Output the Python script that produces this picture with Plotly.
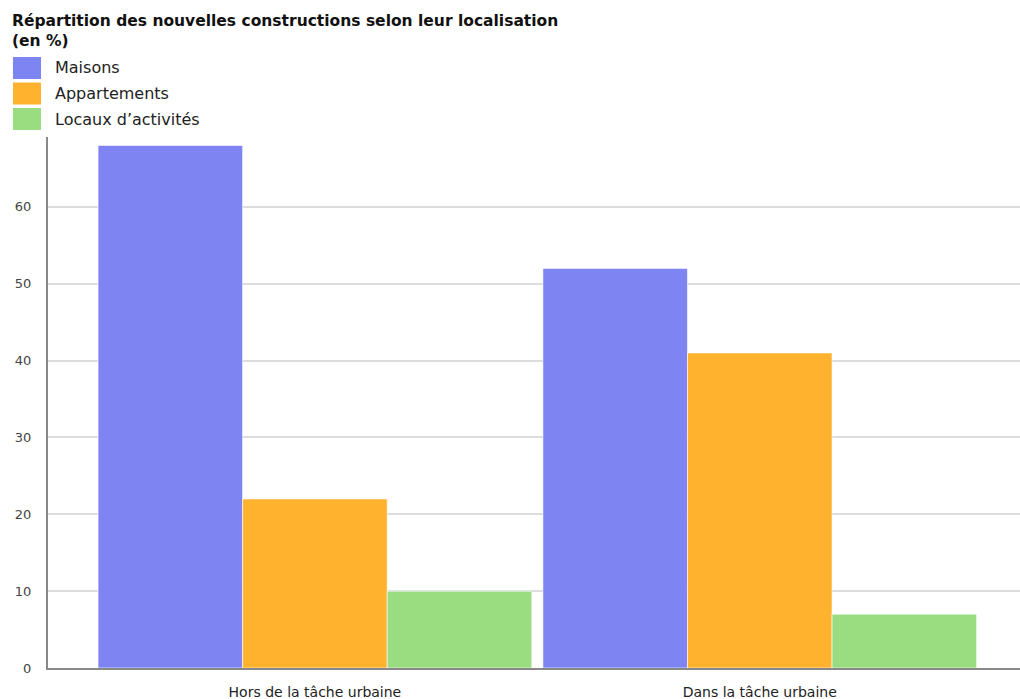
import plotly.graph_objects as go

categories = ["Hors de la tâche urbaine", "Dans la tâche urbaine"]
series_names = ["Maisons", "Appartements", "Locaux d\u2019activités"]
maisons = [68, 52]
appartements = [22, 41]
locaux = [10, 7]
series_values = [maisons, appartements, locaux]
colors = ["#7f84f3", "#ffb22e", "#99dd80"]
y_ticks = [0, 10, 20, 30, 40, 50, 60]
title_text = "Répartition des nouvelles constructions selon leur localisation<br>(en %)"

W, H = 1020, 699
L, R, T, B = 48, 0, 137, 31
PW, PH = W - L - R, H - T - B


def px_x(x):
    return (x - L) / PW


def px_y(y):
    return (H - B - y) / PH


fig = go.Figure()
for name, vals, col in zip(series_names, series_values, colors):
    fig.add_trace(go.Bar(x=categories, y=vals, name=name,
                         marker=dict(color=col, line=dict(color="rgba(255,255,255,0.6)", width=1)),
                         showlegend=False))

# title as annotation
fig.add_annotation(xref="paper", yref="paper", x=px_x(10), y=px_y(10),
                   text="<b>" + title_text + "</b>", showarrow=False,
                   xanchor="left", yanchor="top", align="left",
                   font=dict(family="DejaVu Sans", size=15.5, color="#111"))

# custom legend (swatches + labels)
for i, (name, col) in enumerate(zip(series_names, colors)):
    top = 57 + i * 25.5
    fig.add_shape(type="rect", xref="paper", yref="paper",
                  x0=px_x(13), x1=px_x(41), y0=px_y(top + 22), y1=px_y(top),
                  fillcolor=col, line=dict(width=0), layer="above")
    fig.add_annotation(xref="paper", yref="paper",
                       x=px_x(53), y=px_y(top + 11),
                       text=name, showarrow=False, xanchor="left", yanchor="middle",
                       font=dict(family="DejaVu Sans", size=16, color="#222"))

fig.update_layout(
    width=W, height=H,
    margin=dict(l=L, r=R, t=T, b=B, autoexpand=False),
    paper_bgcolor="white", plot_bgcolor="white",
    barmode="group", bargap=0.025, bargroupgap=0,
    xaxis=dict(range=[-0.6, 1.585], showgrid=False, showline=True, linecolor="#888", linewidth=2,
               ticks="", ticklabelstandoff=10,
               tickfont=dict(family="DejaVu Sans", size=14, color="#222")),
    yaxis=dict(range=[0, 69.1], tickvals=y_ticks, showgrid=True, gridcolor="#dddddd", gridwidth=2,
               showline=True, linecolor="#888", linewidth=2, zeroline=False,
               ticks="", ticklabelstandoff=12,
               tickfont=dict(family="DejaVu Sans", size=13, color="#444")),
)
fig.write_html("out.html", config={"displayModeBar": False},
               post_script="document.body.style.margin='0';")
